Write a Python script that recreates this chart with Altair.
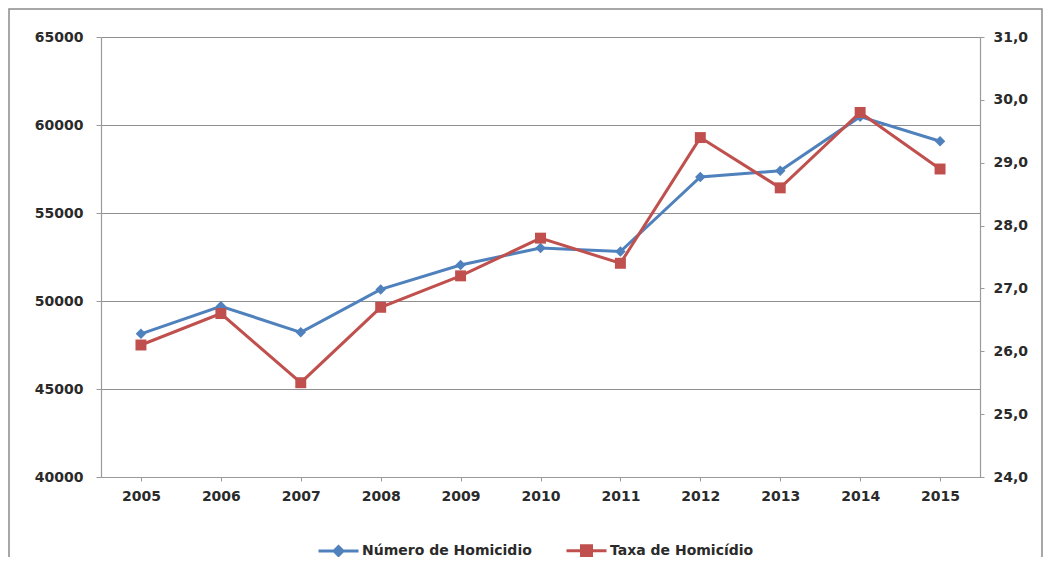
import altair as alt
import pandas as pd

anos = ["2005", "2006", "2007", "2008", "2009", "2010", "2011", "2012", "2013", "2014", "2015"]
numero = [48136, 49704, 48219, 50659, 52043, 53016, 52807, 57045, 57396, 60474, 59080]
taxa = [26.1, 26.6, 25.5, 26.7, 27.2, 27.8, 27.4, 29.4, 28.6, 29.8, 28.9]
series = ["Número de Homicidio", "Taxa de Homicídio"]
cores = ["#4F81BD", "#C0504D"]
left_ticks = [40000, 45000, 50000, 55000, 60000, 65000]
right_ticks = [24, 25, 26, 27, 28, 29, 30, 31]

df = pd.DataFrame({"Ano": anos, "Numero": numero, "Taxa": taxa})
leg_df = pd.DataFrame({"Serie": series})
frame_df = pd.DataFrame({"k": [0]})

FONT = "DejaVu Sans"
GRAY = "#9a9a9a"

x_enc = alt.X("Ano:O", title=None,
              scale=alt.Scale(paddingInner=0, paddingOuter=0),
              axis=alt.Axis(labelAngle=0, bandPosition=0, tickSize=4,
                            labelPadding=8, domainColor=GRAY, tickColor=GRAY))

base = alt.Chart(df)

y_left = alt.Y("Numero:Q", title=None,
               scale=alt.Scale(domain=[40000, 65000], nice=False, zero=False),
               axis=alt.Axis(values=left_ticks, format="d", grid=True,
                             gridColor="#8f8f8f", gridWidth=1.2,
                             tickSize=5, labelPadding=13))
y_right = alt.Y("Taxa:Q", title=None,
                scale=alt.Scale(domain=[24, 31], nice=False, zero=False),
                axis=alt.Axis(orient="right", values=right_ticks, grid=False,
                              labelExpr="replace(format(datum.value, '.1f'), '.', ',')",
                              tickSize=4, labelPadding=9))

blue_line = base.mark_line(color=cores[0], strokeWidth=3).encode(x=x_enc, y=y_left)
blue_pts = base.mark_point(shape="diamond", filled=True, size=110, color=cores[0],
                           opacity=1).encode(x=x_enc, y=y_left)

diamond_path = "M-1,0L-0.22,0M0.22,0L1,0M0,-0.22L0.22,0L0,0.22L-0.22,0Z"
square_path = "M-1,0L-0.25,0M0.25,0L1,0M-0.25,-0.25L0.25,-0.25L0.25,0.25L-0.25,0.25Z"

leg = alt.Legend(title=None, orient="none", legendX=216, legendY=492,
                 direction="horizontal", labelLimit=400,
                 symbolSize=1600, symbolStrokeWidth=3, symbolOpacity=1,
                 labelFont=FONT, labelFontSize=14, labelColor="#2a2a2a",
                 labelFontWeight="bold", columnPadding=28, labelOffset=2)

legend_layer = alt.Chart(leg_df).mark_point(filled=True, opacity=0).encode(
    x=alt.value(0), y=alt.value(0),
    fill=alt.Fill("Serie:N", scale=alt.Scale(domain=series, range=cores), legend=leg),
    stroke=alt.Stroke("Serie:N", scale=alt.Scale(domain=series, range=cores), legend=leg),
    shape=alt.Shape("Serie:N", scale=alt.Scale(domain=series, range=[diamond_path, square_path]), legend=leg),
)

red_line = base.mark_line(color=cores[1], strokeWidth=3).encode(x=x_enc, y=y_right)
red_pts = base.mark_point(shape="square", filled=True, size=120, color=cores[1],
                          opacity=1).encode(x=x_enc, y=y_right)

frame = alt.Chart(frame_df).mark_rect(fillOpacity=0, stroke="#8a8a8a", strokeWidth=1.5).encode(
    x=alt.value(-92), x2=alt.value(941), y=alt.value(-28), y2=alt.value(700))

blue = alt.layer(blue_line, blue_pts, legend_layer)
red = alt.layer(red_line, red_pts)

chart = alt.layer(blue, red, frame).resolve_scale(y="independent").properties(
    width=879, height=440,
    autosize=alt.AutoSizeParams(type="none"),
    padding={"left": 93, "top": 29, "right": 63, "bottom": 80},
).configure_view(stroke=None).configure_axis(
    labelFont=FONT, labelFontSize=14, labelColor="#2a2a2a", labelFontWeight="bold",
    domainColor=GRAY, tickColor=GRAY, domainWidth=1.2,
)

chart.save("out.html", embed_options={"renderer": "svg", "actions": False})
